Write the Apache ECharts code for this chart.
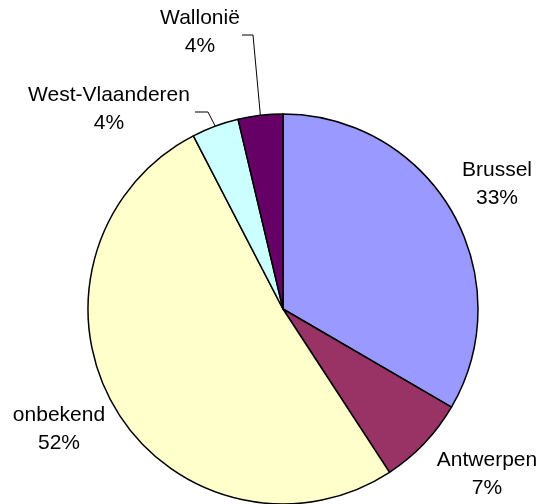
<!DOCTYPE html>
<html>
<head>
<meta charset="utf-8">
<script src="https://cdn.jsdelivr.net/npm/echarts@6/dist/echarts.min.js"></script>
<style>
html,body{margin:0;padding:0;background:#fff;}
#chart{width:544px;height:504px;}
</style>
</head>
<body>
<div id="chart"></div>
<script>
var categories = ['Brussel', 'Antwerpen', 'onbekend', 'West-Vlaanderen', 'Wallonië'];
var values = [33.4, 7.4, 51.6, 3.9, 3.7];
var colors = ['#9999FF', '#993366', '#FFFFCC', '#CCFFFF', '#660066'];
// label block centers (layout only)
var labelCenters = [[497, 184], [487, 474], [59, 429], [109, 109], [200, 32]];
// leader line elbow points (layout only); null = no leader
var leaderElbows = [null, null, null, [[195, 112], [208, 112]], [[242, 35], [253, 35]]];

var chart = echarts.init(document.getElementById('chart'), null, {renderer: 'canvas'});
var data = categories.map(function (c, i) {
  return {
    name: c,
    value: values[i],
    itemStyle: {color: colors[i]},
    labelLine: {show: leaderElbows[i] !== null}
  };
});
chart.setOption({
  animation: false,
  backgroundColor: '#fff',
  series: [{
    type: 'pie',
    center: [283, 309],
    radius: 195,
    startAngle: 90,
    clockwise: true,
    percentPrecision: 0,
    avoidLabelOverlap: false,
    itemStyle: {borderColor: '#000', borderWidth: 1.5},
    label: {
      show: true,
      position: 'outside',
      formatter: '{b}\n{d}%',
      fontFamily: 'Liberation Sans, Arial, sans-serif',
      fontSize: 21,
      lineHeight: 28,
      color: '#000',
      align: 'center'
    },
    labelLine: {lineStyle: {color: '#000', width: 1}, smooth: false},
    labelLayout: function (params) {
      var i = params.dataIndex;
      var c = labelCenters[i];
      var res = {x: c[0], y: c[1], align: 'center', verticalAlign: 'middle'};
      var e = leaderElbows[i];
      if (e && params.labelLinePoints) {
        var p0 = params.labelLinePoints[0];
        res.labelLinePoints = [e[0], e[1], p0];
      }
      return res;
    },
    emphasis: {disabled: true},
    data: data
  }]
});
</script>
</body>
</html>
